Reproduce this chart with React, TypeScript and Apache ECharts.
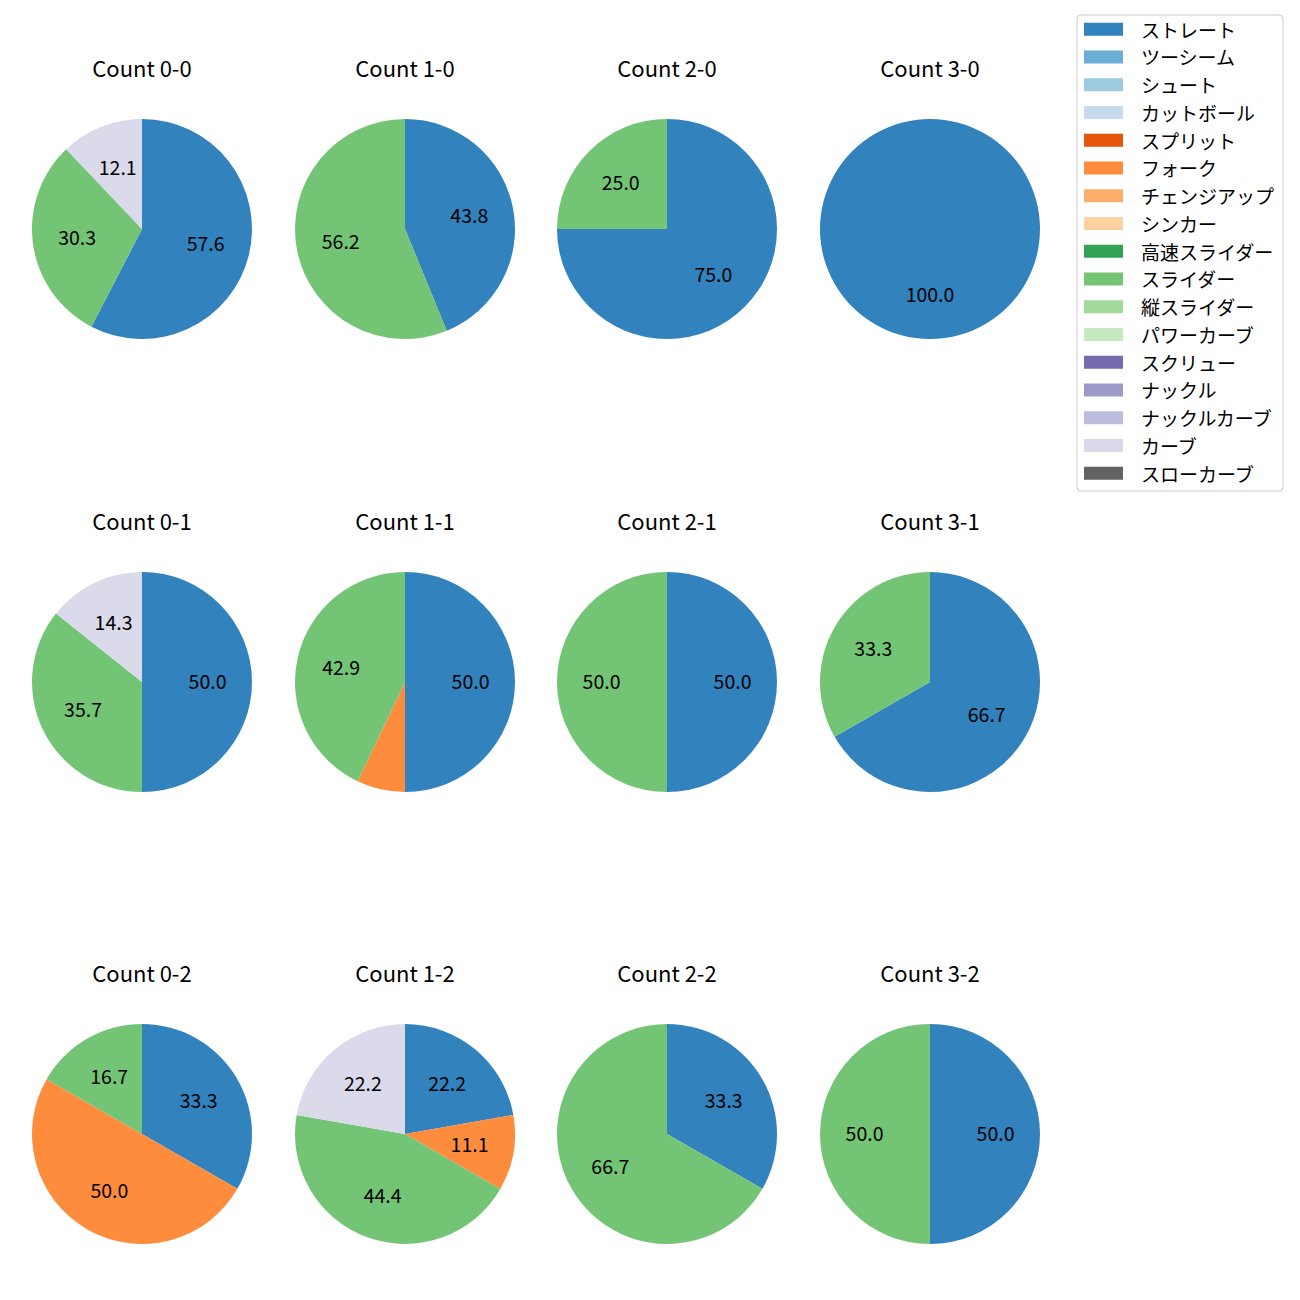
import React, { useEffect, useRef } from "react";
import * as echarts from "echarts";

const pitchTypes = [
  "ストレート", "ツーシーム", "シュート", "カットボール", "スプリット", "フォーク",
  "チェンジアップ", "シンカー", "高速スライダー", "スライダー", "縦スライダー",
  "パワーカーブ", "スクリュー", "ナックル", "ナックルカーブ", "カーブ", "スローカーブ",
];
const pitchColors = [
  "#3182bd", "#6baed6", "#9ecae1", "#c6dbef", "#e6550d", "#fd8d3c",
  "#fdae6b", "#fdd0a2", "#31a354", "#74c476", "#a1d99b",
  "#c7e9c0", "#756bb1", "#9e9ac8", "#bcbddc", "#dadaeb", "#636363",
];

const countTitles = [
  "Count 0-0", "Count 1-0", "Count 2-0", "Count 3-0",
  "Count 0-1", "Count 1-1", "Count 2-1", "Count 3-1",
  "Count 0-2", "Count 1-2", "Count 2-2", "Count 3-2",
];

// [pitch type, share %] per count
const count00: [string, number][] = [["ストレート", 57.6], ["スライダー", 30.3], ["カーブ", 12.1]];
const count10: [string, number][] = [["ストレート", 43.8], ["スライダー", 56.2]];
const count20: [string, number][] = [["ストレート", 75.0], ["スライダー", 25.0]];
const count30: [string, number][] = [["ストレート", 100.0]];
const count01: [string, number][] = [["ストレート", 50.0], ["スライダー", 35.7], ["カーブ", 14.3]];
const count11: [string, number][] = [["ストレート", 50.0], ["フォーク", 7.1], ["スライダー", 42.9]];
const count21: [string, number][] = [["ストレート", 50.0], ["スライダー", 50.0]];
const count31: [string, number][] = [["ストレート", 66.7], ["スライダー", 33.3]];
const count02: [string, number][] = [["ストレート", 33.3], ["フォーク", 50.0], ["スライダー", 16.7]];
const count12: [string, number][] = [["ストレート", 22.2], ["フォーク", 11.1], ["スライダー", 44.4], ["カーブ", 22.2]];
const count22: [string, number][] = [["ストレート", 33.3], ["スライダー", 66.7]];
const count32: [string, number][] = [["ストレート", 50.0], ["スライダー", 50.0]];

const countData = [count00, count10, count20, count30, count01, count11, count21, count31, count02, count12, count22, count32];

const FONT = "'Noto Sans CJK JP', 'Noto Sans', sans-serif";
const colX = [142, 405, 667, 930];
const rowY = [229, 682, 1134];
const R = 110;

export default function App() {
  const ref = useRef<HTMLDivElement>(null);
  useEffect(() => {
    if (!ref.current) return;
    const chart = echarts.init(ref.current, undefined, { renderer: "svg" });
    const titles: any[] = [];
    const series: any[] = [];
    countData.forEach((d, i) => {
      const cx = colX[i % 4];
      const cy = rowY[Math.floor(i / 4)];
      titles.push({
        text: countTitles[i],
        left: cx,
        top: cy - 173,
        padding: 0,
        textAlign: "center",
        textStyle: { fontFamily: FONT, fontSize: 22, fontWeight: "normal", color: "#000" },
      });
      const items = d.map(([name, v]) => ({
        name,
        value: v,
        itemStyle: { color: pitchColors[pitchTypes.indexOf(name)] },
      }));
      series.push({
        type: "pie",
        center: [cx, cy],
        radius: [0, R],
        startAngle: 90,
        clockwise: true,
        silent: true,
        avoidLabelOverlap: false,
        label: { show: false },
        labelLine: { show: false },
        itemStyle: { borderWidth: 0 },
        emphasis: { disabled: true },
        data: items,
      });
      series.push({
        type: "pie",
        center: [cx, cy],
        radius: [15, R],
        startAngle: 90,
        clockwise: true,
        silent: true,
        avoidLabelOverlap: false,
        label: {
          show: true,
          position: "inside",
          color: "#000",
          fontFamily: FONT,
          fontSize: 19.5,
          offset: [0, -1.5],
          formatter: (p: any) => (p.value >= 10 ? Number(p.value).toFixed(1) : ""),
        },
        labelLine: { show: false },
        itemStyle: { color: "transparent", borderWidth: 0 },
        emphasis: { disabled: true },
        data: d.map(([name, v]) => ({ name, value: v })),
      });
    });

    const legendChildren: any[] = [
      {
        type: "rect",
        shape: { x: 1077, y: 15, width: 206, height: 476, r: 4 },
        style: { fill: "#fff", stroke: "#cccccc", lineWidth: 1 },
      },
    ];
    pitchTypes.forEach((name, i) => {
      const y = 29.2 + i * 27.75;
      legendChildren.push({
        type: "rect",
        shape: { x: 1084, y: y - 6.5, width: 39, height: 13 },
        style: { fill: pitchColors[i] },
      });
      legendChildren.push({
        type: "text",
        x: 1141,
        y,
        style: {
          text: name,
          fill: "#000",
          font: `19px ${FONT}`,
          verticalAlign: "middle",
          align: "left",
        },
      });
    });

    chart.setOption({
      animation: false,
      backgroundColor: "#fff",
      title: titles,
      series,
      graphic: [{ type: "group", children: legendChildren }],
    });
    return () => chart.dispose();
  }, []);
  return (
    <div
      ref={ref}
      style={{ position: "absolute", left: 0, top: 0, width: 1300, height: 1300 }}
    />
  );
}
